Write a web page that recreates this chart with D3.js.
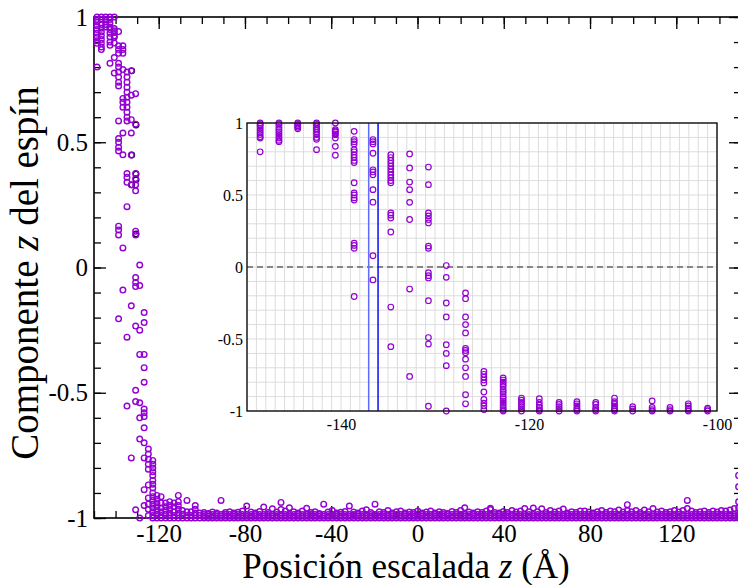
<!DOCTYPE html>
<html>
<head>
<meta charset="utf-8">
<script src="https://cdn.jsdelivr.net/npm/d3@7"></script>
<style>
  body { margin: 0; background: #fff; }
  text { font-family: "Liberation Serif", "Times New Roman", serif; }
</style>
</head>
<body>
<svg id="chart" width="738" height="585"></svg>
<script>
// layer positions of the domain wall (A) and the spin z component of each site in that layer
var wallZ = [-148.6, -146.6, -144.6, -142.6, -140.6, -138.6, -136.6, -134.7, -132.7, -130.7,
             -128.8, -126.75, -124.8, -122.75, -120.8, -118.9, -116.8, -114.9, -112.9, -110.9,
             -108.97, -106.9, -105.0, -103.06, -101.0];
var wallSz = [
  [1.0, 0.99, 0.98, 0.965, 0.95, 0.935, 0.92, 0.905, 0.895, 0.80],
  [1.0, 0.99, 0.97, 0.955, 0.94, 0.925, 0.91, 0.895, 0.88, 0.87],
  [1.0, 0.99, 0.98, 0.97, 0.96],
  [1.0, 0.99, 0.975, 0.96, 0.95, 0.935, 0.92, 0.90, 0.887, 0.815],
  [1.0, 0.954, 0.945, 0.938, 0.925, 0.919, 0.896, 0.838, 0.776],
  [0.942, 0.885, 0.87, 0.855, 0.815, 0.80, 0.78, 0.76, 0.74, 0.725, 0.585, 0.515, 0.50, 0.48, 0.465, 0.165, 0.15, 0.13, -0.205],
  [0.885, 0.87, 0.855, 0.79, 0.675, 0.66, 0.64, 0.537, 0.45, 0.078, -0.09],
  [0.78, 0.76, 0.74, 0.72, 0.70, 0.68, 0.66, 0.64, 0.62, 0.60, 0.585, 0.375, 0.36, 0.34, 0.243, -0.278, -0.553],
  [0.785, 0.688, 0.59, 0.537, 0.449, 0.33, -0.153, -0.76],
  [0.694, 0.572, 0.375, 0.355, 0.33, 0.306, 0.145, 0.13, -0.04, -0.06, -0.076, -0.234, -0.49, -0.535, -0.967],
  [0.01, -0.072, -0.25, -0.347, -0.54, -0.60, -0.685, -1.0],
  [-0.18, -0.22, -0.347, -0.40, -0.458, -0.565, -0.58, -0.595, -0.64, -0.70, -0.76, -0.887, -0.95],
  [-0.725, -0.745, -0.765, -0.785, -0.805, -0.868, -0.92, -0.945, -0.965, -0.99],
  [-0.77, -0.785, -0.80, -0.815, -0.83, -0.85, -0.865, -0.88, -0.90, -0.915, -0.93, -0.945, -0.96, -0.975, -0.99, -1.0],
  [-0.91, -0.925, -0.94, -0.955, -0.97, -0.985, -1.0],
  [-0.915, -0.94, -0.96, -0.975, -0.99, -1.0],
  [-0.94, -0.955, -0.97, -0.985, -1.0],
  [-0.935, -0.95, -0.965, -0.98, -0.99, -1.0],
  [-0.94, -0.955, -0.975, -0.99, -1.0],
  [-0.91, -0.935, -0.95, -0.965, -0.98, -0.99, -1.0],
  [-0.97, -0.985, -1.0],
  [-0.93, -0.975, -0.99, -1.0],
  [-0.975, -0.99, -1.0],
  [-0.95, -0.965, -0.98, -0.99, -1.0],
  [-0.98, -0.99, -1.0]
];

// saturated region: layer positions and highest spin value in each layer
var tailZ = [-99.0, -97.0, -95.1, -93.1, -91.1, -89.1, -87.1, -85.1, -83.2, -81.2,
             -79.2, -77.2, -75.2, -73.2, -71.3, -69.3, -67.3, -65.3, -63.3, -61.3,
             -59.4, -57.4, -55.4, -53.4, -51.4, -49.4, -47.5, -45.5, -43.5, -41.5,
             -39.5, -37.5, -35.6, -33.6, -31.6, -29.6, -27.6, -25.6, -23.7, -21.7,
             -19.7, -17.7, -15.7, -13.7, -11.8, -9.8, -7.8, -5.8, -3.8, -1.9,
             0.1, 2.1, 4.1, 6.1, 8.1, 10.1, 12.0, 14.0, 16.0, 18.0,
             20.0, 21.9, 23.9, 25.9, 27.9, 29.9, 31.9, 33.8, 35.8, 37.8,
             39.8, 41.8, 43.8, 45.7, 47.7, 49.7, 51.7, 53.7, 55.7, 57.6,
             59.6, 61.6, 63.6, 65.6, 67.6, 69.5, 71.5, 73.5, 75.5, 77.5,
             79.5, 81.4, 83.4, 85.4, 87.4, 89.4, 91.4, 93.3, 95.3, 97.3,
             99.3, 101.3, 103.3, 105.2, 107.2, 109.2, 111.2, 113.2, 115.2, 117.1,
             119.1, 121.1, 123.1, 125.1, 127.1, 129.0, 131.0, 133.0, 135.0, 137.0,
             138.9, 140.9, 142.9, 144.9, 146.9, 148.9];
var tailTop = [-0.978, -0.982, -0.976, -0.98, -0.93, -0.978, -0.975, -0.98, -0.977, -0.972,
               -0.952, -0.976, -0.98, -0.974, -0.956, -0.978, -0.963, -0.976, -0.938, -0.972,
               -0.959, -0.975, -0.98, -0.972, -0.961, -0.978, -0.975, -0.982, -0.945, -0.976,
               -0.97, -0.98, -0.977, -0.974, -0.952, -0.976, -0.98, -0.972, -0.967, -0.978,
               -0.945, -0.975, -0.978, -0.97, -0.98, -0.975, -0.972, -0.98, -0.976, -0.978,
               -0.972, -0.98, -0.976, -0.972, -0.98, -0.975, -0.978, -0.982, -0.974, -0.978,
               -0.97, -0.959, -0.976, -0.98, -0.975, -0.978, -0.972, -0.961, -0.978, -0.98,
               -0.974, -0.978, -0.97, -0.976, -0.972, -0.962, -0.975, -0.96, -0.975, -0.963,
               -0.978, -0.97, -0.976, -0.972, -0.964, -0.98, -0.975, -0.978, -0.972, -0.972,
               -0.976, -0.98, -0.975, -0.97, -0.978, -0.972, -0.975, -0.968, -0.976, -0.947,
               -0.975, -0.97, -0.978, -0.968, -0.975, -0.962, -0.976, -0.972, -0.978, -0.975,
               -0.97, -0.976, -0.97, -0.93, -0.972, -0.978, -0.975, -0.972, -0.978, -0.972,
               -0.976, -0.97, -0.972, -0.968, -0.962, -0.83];
var tailBase = [-1.0, -0.993, -0.986];
var tailExtra = [[-63.3, -0.966], [33.8, -0.966], [97.3, -0.97], [125.1, -0.962],
                 [148.9, -0.875], [148.9, -0.935], [148.9, -0.96]];

// earlier configuration (black), visible under the purple one in the main panel
var blackZ = [-132.5, -132.5, -132.5, -130.5, -130.5, -130.5, -130.5];
var blackSz = [0.785, 0.449, 0.33, 0.569, 0.373, 0.35, 0.134];

var xMajor = [-120, -80, -40, 0, 40, 80, 120];
var xMinor = d3.range(-150, 151, 10);
var yMajor = [-1, -0.5, 0, 0.5, 1];
var yMinor = d3.range(-10, 11).map(function (d) { return d / 10; });
var insetXTicks = [-140, -120, -100];
var insetYTicks = [-1, -0.5, 0, 0.5, 1];
var insetGridX = d3.range(-150, -99, 1);
var wallLines = [-137.06, -136.06];

var purple = '#9400d3';
var serif = '"Liberation Serif", "Times New Roman", serif';

// flatten the data into points
var points = [];
wallZ.forEach(function (z, i) {
    wallSz[i].forEach(function (s) { points.push({ z: z, s: s }); });
});
tailZ.forEach(function (z, i) {
    tailBase.forEach(function (s) { points.push({ z: z, s: s }); });
    points.push({ z: z, s: tailTop[i] });
});
tailExtra.forEach(function (d) { points.push({ z: d[0], s: d[1] }); });

var svg = d3.select('#chart');

// main panel
var x = d3.scaleLinear().domain([-150, 150]).range([94, 741]);
var y = d3.scaleLinear().domain([-1, 1]).range([518, 17]);

var fmt = function (d) { return String(d); };

// minor ticks
svg.append('g').attr('transform', 'translate(0,518)')
    .call(d3.axisBottom(x).tickValues(xMinor).tickSize(-7).tickFormat(''));
svg.append('g').attr('transform', 'translate(0,17)')
    .call(d3.axisTop(x).tickValues(xMinor).tickSize(-7).tickFormat(''));
svg.append('g').attr('transform', 'translate(94,0)')
    .call(d3.axisLeft(y).tickValues(yMinor).tickSize(-7).tickFormat(''));
svg.append('g').attr('transform', 'translate(741,0)')
    .call(d3.axisRight(y).tickValues(yMinor).tickSize(-7).tickFormat(''));
// major ticks
svg.append('g').attr('transform', 'translate(0,518)')
    .call(d3.axisBottom(x).tickValues(xMajor).tickSize(-12).tickPadding(6).tickFormat(fmt))
    .attr('font-family', serif).attr('font-size', 25);
svg.append('g').attr('transform', 'translate(0,17)')
    .call(d3.axisTop(x).tickValues(xMajor).tickSize(-12).tickFormat(''));
svg.append('g').attr('transform', 'translate(94,0)')
    .call(d3.axisLeft(y).tickValues(yMajor).tickSize(-12).tickPadding(6).tickFormat(fmt))
    .attr('font-family', serif).attr('font-size', 25);
svg.append('g').attr('transform', 'translate(741,0)')
    .call(d3.axisRight(y).tickValues(yMajor).tickSize(-12).tickFormat(''));

svg.selectAll('.domain').remove();
svg.selectAll('.tick line').attr('stroke', '#000').attr('stroke-width', 1.3);
svg.selectAll('.tick text').attr('fill', '#000');

svg.append('rect')
    .attr('x', 94).attr('y', 17).attr('width', 741 - 94).attr('height', 518 - 17)
    .attr('fill', 'none').attr('stroke', '#000').attr('stroke-width', 1.6);

// black points then purple points
svg.append('g').selectAll('circle')
    .data(blackZ)
    .enter().append('circle')
    .attr('cx', function (d) { return x(d); })
    .attr('cy', function (d, i) { return y(blackSz[i]); })
    .attr('r', 2.8)
    .attr('fill', 'none')
    .attr('stroke', '#000')
    .attr('stroke-width', 1.3);

svg.append('g').selectAll('circle')
    .data(points)
    .enter().append('circle')
    .attr('cx', function (d) { return x(d.z); })
    .attr('cy', function (d) { return y(d.s); })
    .attr('r', 2.8)
    .attr('fill', 'none')
    .attr('stroke', purple)
    .attr('stroke-width', 1.4);

// axis titles
var xt = svg.append('text')
    .attr('x', 406).attr('y', 578)
    .style('text-anchor', 'middle')
    .style('font-size', '35px');
xt.append('tspan').text('Posición escalada ');
xt.append('tspan').style('font-style', 'italic').text('z');
xt.append('tspan').text(' (Å)');

var yt = svg.append('text')
    .attr('transform', 'translate(38,273) rotate(-90)')
    .style('text-anchor', 'middle')
    .style('font-size', '39px');
yt.append('tspan').text('Componente ');
yt.append('tspan').style('font-style', 'italic').text('z');
yt.append('tspan').text(' del espín');

// inset
var xi = d3.scaleLinear().domain([-150, -100]).range([247, 717]);
var yi = d3.scaleLinear().domain([-1, 1]).range([411, 123]);
var inset = svg.append('g');

inset.append('rect')
    .attr('x', 247).attr('y', 123).attr('width', 717 - 247).attr('height', 411 - 123)
    .attr('fill', '#fff');

inset.append('g').selectAll('line')
    .data(insetGridX)
    .enter().append('line')
    .attr('x1', function (d) { return xi(d); }).attr('x2', function (d) { return xi(d); })
    .attr('y1', 123).attr('y2', 411)
    .attr('stroke', '#dcdcdc').attr('stroke-width', 1);
inset.append('g').selectAll('line')
    .data(yMinor)
    .enter().append('line')
    .attr('x1', 247).attr('x2', 717)
    .attr('y1', function (d) { return yi(d); }).attr('y2', function (d) { return yi(d); })
    .attr('stroke', '#dcdcdc').attr('stroke-width', 1);

inset.append('line')
    .attr('x1', 247).attr('x2', 717).attr('y1', yi(0)).attr('y2', yi(0))
    .attr('stroke', '#666').attr('stroke-width', 1.5).attr('stroke-dasharray', '6,4');

inset.append('g').selectAll('line')
    .data(wallLines)
    .enter().append('line')
    .attr('x1', function (d) { return xi(d); }).attr('x2', function (d) { return xi(d); })
    .attr('y1', 123).attr('y2', 411)
    .attr('stroke', function (d, i) { return i === 0 ? '#5f6cff' : '#0000ff'; })
    .attr('stroke-width', 1.4);

inset.append('g').selectAll('circle')
    .data(points.filter(function (d) { return d.z <= -100; }))
    .enter().append('circle')
    .attr('cx', function (d) { return xi(d.z); })
    .attr('cy', function (d) { return yi(d.s); })
    .attr('r', 2.8)
    .attr('fill', 'none')
    .attr('stroke', purple)
    .attr('stroke-width', 1.2);

inset.append('rect')
    .attr('x', 247).attr('y', 123).attr('width', 717 - 247).attr('height', 411 - 123)
    .attr('fill', 'none').attr('stroke', '#111').attr('stroke-width', 1.4);

inset.append('g').attr('transform', 'translate(0,411)')
    .call(d3.axisBottom(xi).tickValues(insetXTicks).tickSize(0).tickPadding(8).tickFormat(fmt))
    .attr('font-family', serif).attr('font-size', 16);
inset.append('g').attr('transform', 'translate(247,0)')
    .call(d3.axisLeft(yi).tickValues(insetYTicks).tickSize(0).tickPadding(4).tickFormat(fmt))
    .attr('font-family', serif).attr('font-size', 16);
inset.selectAll('.domain').remove();
inset.selectAll('.tick text').attr('fill', '#000');
</script>
</body>
</html>
